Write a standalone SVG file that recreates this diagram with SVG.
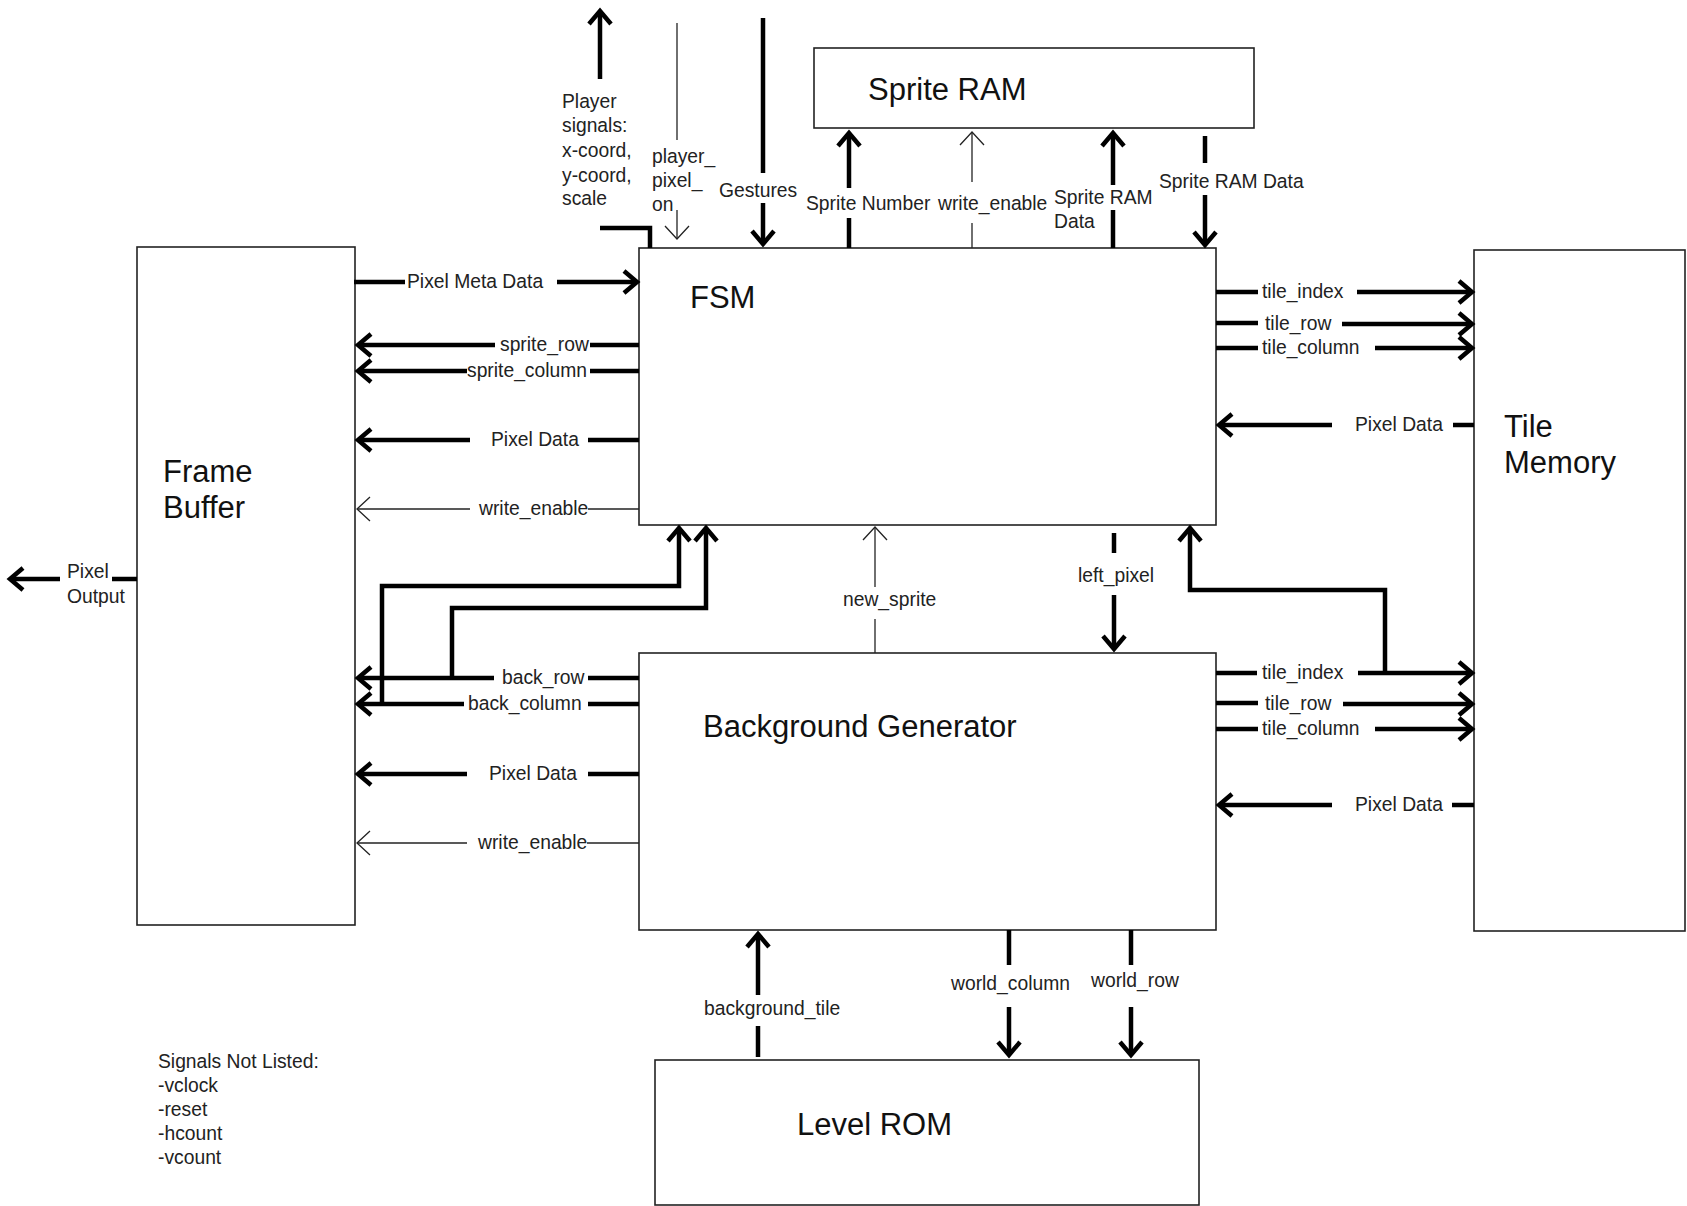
<svg xmlns="http://www.w3.org/2000/svg" width="1687" height="1206" viewBox="0 0 1687 1206">
<style>
.box{fill:#fff;stroke:#222;stroke-width:1.6}
.big{font-family:"Liberation Sans",Arial,sans-serif;font-size:31px;fill:#111}
.lbl{font-family:"Liberation Sans",Arial,sans-serif;font-size:19.3px;fill:#222}
.thick{fill:none;stroke:#000;stroke-width:4.5}
.thin{fill:none;stroke:#222;stroke-width:1.3}
</style>
<defs>
<marker id="ah" viewBox="-18 -15 22 30" refX="0" refY="0" markerWidth="22" markerHeight="30" markerUnits="userSpaceOnUse" orient="auto">
<path d="M-13,-11 L0,0 L-13,11" fill="none" stroke="#000" stroke-width="4.5"/>
</marker>
<marker id="at" viewBox="-18 -15 22 30" refX="0" refY="0" markerWidth="22" markerHeight="30" markerUnits="userSpaceOnUse" orient="auto">
<path d="M-13,-12 L0,0 L-13,12" fill="none" stroke="#222" stroke-width="1.3"/>
</marker>
</defs>
<rect width="1687" height="1206" fill="#fff"/>

<g id="frame-buffer">
<rect class="box" x="137" y="247" width="218" height="678"/>
<text class="big" x="163" y="482">Frame</text>
<text class="big" x="163" y="518">Buffer</text>
</g>
<g id="fsm">
<rect class="box" x="639" y="248" width="577" height="277"/>
<text class="big" x="690" y="308">FSM</text>
</g>
<g id="sprite-ram">
<rect class="box" x="814" y="48" width="440" height="80"/>
<text class="big" x="868" y="100">Sprite RAM</text>
</g>
<g id="tile-memory">
<rect class="box" x="1474" y="250" width="211" height="681"/>
<text class="big" x="1504" y="437">Tile</text>
<text class="big" x="1504" y="473">Memory</text>
</g>
<g id="background-generator">
<rect class="box" x="639" y="653" width="577" height="277"/>
<text class="big" x="703" y="737">Background Generator</text>
</g>
<g id="level-rom">
<rect class="box" x="655" y="1060" width="544" height="145"/>
<text class="big" x="797" y="1135">Level ROM</text>
</g>

<g id="connectors">
<line class="thick" x1="600" y1="79" x2="600" y2="11" marker-end="url(#ah)"/>
<polyline class="thick" points="600,228 650,228 650,248"/>
<line class="thin" x1="677" y1="23" x2="677" y2="140"/>
<line class="thin" x1="677" y1="210" x2="677" y2="239" marker-end="url(#at)"/>
<line class="thick" x1="763" y1="18" x2="763" y2="173"/>
<line class="thick" x1="763" y1="203" x2="763" y2="244" marker-end="url(#ah)"/>
<line class="thick" x1="849" y1="188" x2="849" y2="133" marker-end="url(#ah)"/>
<line class="thick" x1="849" y1="218" x2="849" y2="248"/>
<line class="thin" x1="972" y1="182" x2="972" y2="132" marker-end="url(#at)"/>
<line class="thin" x1="972" y1="223" x2="972" y2="248"/>
<line class="thick" x1="1113" y1="185" x2="1113" y2="133" marker-end="url(#ah)"/>
<line class="thick" x1="1113" y1="210" x2="1113" y2="248"/>
<line class="thick" x1="1205" y1="136" x2="1205" y2="163"/>
<line class="thick" x1="1205" y1="195" x2="1205" y2="245" marker-end="url(#ah)"/>
<line class="thick" x1="354" y1="282" x2="405" y2="282"/>
<line class="thick" x1="557" y1="282" x2="637" y2="282" marker-end="url(#ah)"/>
<line class="thick" x1="495" y1="345" x2="358" y2="345" marker-end="url(#ah)"/>
<line class="thick" x1="590" y1="345" x2="639" y2="345"/>
<line class="thick" x1="467" y1="371" x2="358" y2="371" marker-end="url(#ah)"/>
<line class="thick" x1="590" y1="371" x2="639" y2="371"/>
<line class="thick" x1="470" y1="440" x2="358" y2="440" marker-end="url(#ah)"/>
<line class="thick" x1="588" y1="440" x2="639" y2="440"/>
<line class="thin" x1="470" y1="509" x2="357" y2="509" marker-end="url(#at)"/>
<line class="thin" x1="588" y1="509" x2="639" y2="509"/>
<line class="thick" x1="60" y1="579" x2="10" y2="579" marker-end="url(#ah)"/>
<line class="thick" x1="112" y1="579" x2="137" y2="579"/>
<line class="thick" x1="494" y1="678" x2="358" y2="678" marker-end="url(#ah)"/>
<line class="thick" x1="588" y1="678" x2="639" y2="678"/>
<line class="thick" x1="464" y1="704" x2="358" y2="704" marker-end="url(#ah)"/>
<line class="thick" x1="588" y1="704" x2="639" y2="704"/>
<polyline class="thick" points="452,678 452,608 706,608 706,528" marker-end="url(#ah)"/>
<polyline class="thick" points="382,704 382,586 679,586 679,528" marker-end="url(#ah)"/>
<line class="thick" x1="467" y1="774" x2="358" y2="774" marker-end="url(#ah)"/>
<line class="thick" x1="588" y1="774" x2="639" y2="774"/>
<line class="thin" x1="467" y1="843" x2="357" y2="843" marker-end="url(#at)"/>
<line class="thin" x1="587" y1="843" x2="639" y2="843"/>
<line class="thick" x1="1216" y1="292" x2="1258" y2="292"/>
<line class="thick" x1="1357" y1="292" x2="1472" y2="292" marker-end="url(#ah)"/>
<line class="thick" x1="1216" y1="323" x2="1258" y2="323"/>
<line class="thick" x1="1342" y1="324" x2="1472" y2="324" marker-end="url(#ah)"/>
<line class="thick" x1="1216" y1="348" x2="1258" y2="348"/>
<line class="thick" x1="1375" y1="348" x2="1472" y2="348" marker-end="url(#ah)"/>
<line class="thick" x1="1332" y1="425" x2="1219" y2="425" marker-end="url(#ah)"/>
<line class="thick" x1="1453" y1="425" x2="1474" y2="425"/>
<line class="thick" x1="1216" y1="673" x2="1257" y2="673"/>
<line class="thick" x1="1358" y1="673" x2="1472" y2="673" marker-end="url(#ah)"/>
<line class="thick" x1="1216" y1="703" x2="1258" y2="703"/>
<line class="thick" x1="1343" y1="704" x2="1472" y2="704" marker-end="url(#ah)"/>
<line class="thick" x1="1216" y1="729" x2="1258" y2="729"/>
<line class="thick" x1="1375" y1="729" x2="1472" y2="729" marker-end="url(#ah)"/>
<line class="thick" x1="1332" y1="805" x2="1219" y2="805" marker-end="url(#ah)"/>
<line class="thick" x1="1452" y1="805" x2="1474" y2="805"/>
<polyline class="thick" points="1385,673 1385,590 1190,590 1190,528" marker-end="url(#ah)"/>
<line class="thin" x1="875" y1="587" x2="875" y2="527" marker-end="url(#at)"/>
<line class="thin" x1="875" y1="619" x2="875" y2="653"/>
<line class="thick" x1="1114" y1="533" x2="1114" y2="553"/>
<line class="thick" x1="1114" y1="595" x2="1114" y2="649" marker-end="url(#ah)"/>
<line class="thick" x1="758" y1="995" x2="758" y2="934" marker-end="url(#ah)"/>
<line class="thick" x1="758" y1="1026" x2="758" y2="1057"/>
<line class="thick" x1="1009" y1="930" x2="1009" y2="965"/>
<line class="thick" x1="1009" y1="1007" x2="1009" y2="1055" marker-end="url(#ah)"/>
<line class="thick" x1="1131" y1="930" x2="1131" y2="965"/>
<line class="thick" x1="1131" y1="1007" x2="1131" y2="1055" marker-end="url(#ah)"/>
</g>

<g id="labels">
<text class="lbl" x="562" y="108">Player</text>
<text class="lbl" x="562" y="132">signals:</text>
<text class="lbl" x="562" y="157">x-coord,</text>
<text class="lbl" x="562" y="182">y-coord,</text>
<text class="lbl" x="562" y="205">scale</text>
<text class="lbl" x="652" y="163">player_</text>
<text class="lbl" x="652" y="187">pixel_</text>
<text class="lbl" x="652" y="211">on</text>
<text class="lbl" x="719" y="197">Gestures</text>
<text class="lbl" x="806" y="210">Sprite Number</text>
<text class="lbl" x="938" y="210">write_enable</text>
<text class="lbl" x="1054" y="204">Sprite RAM</text>
<text class="lbl" x="1054" y="228">Data</text>
<text class="lbl" x="1159" y="188">Sprite RAM Data</text>
<text class="lbl" x="407" y="288">Pixel Meta Data</text>
<text class="lbl" x="500" y="351">sprite_row</text>
<text class="lbl" x="467" y="377">sprite_column</text>
<text class="lbl" x="491" y="446">Pixel Data</text>
<text class="lbl" x="479" y="515">write_enable</text>
<text class="lbl" x="67" y="578">Pixel</text>
<text class="lbl" x="67" y="603">Output</text>
<text class="lbl" x="502" y="684">back_row</text>
<text class="lbl" x="468" y="710">back_column</text>
<text class="lbl" x="489" y="780">Pixel Data</text>
<text class="lbl" x="478" y="849">write_enable</text>
<text class="lbl" x="1262" y="298">tile_index</text>
<text class="lbl" x="1265" y="330">tile_row</text>
<text class="lbl" x="1262" y="354">tile_column</text>
<text class="lbl" x="1355" y="431">Pixel Data</text>
<text class="lbl" x="1262" y="679">tile_index</text>
<text class="lbl" x="1265" y="710">tile_row</text>
<text class="lbl" x="1262" y="735">tile_column</text>
<text class="lbl" x="1355" y="811">Pixel Data</text>
<text class="lbl" x="843" y="606">new_sprite</text>
<text class="lbl" x="1078" y="582">left_pixel</text>
<text class="lbl" x="704" y="1015">background_tile</text>
<text class="lbl" x="951" y="990">world_column</text>
<text class="lbl" x="1091" y="987">world_row</text>
<text class="lbl" x="158" y="1068">Signals Not Listed:</text>
<text class="lbl" x="158" y="1092">-vclock</text>
<text class="lbl" x="158" y="1116">-reset</text>
<text class="lbl" x="158" y="1140">-hcount</text>
<text class="lbl" x="158" y="1164">-vcount</text>
</g>
</svg>
